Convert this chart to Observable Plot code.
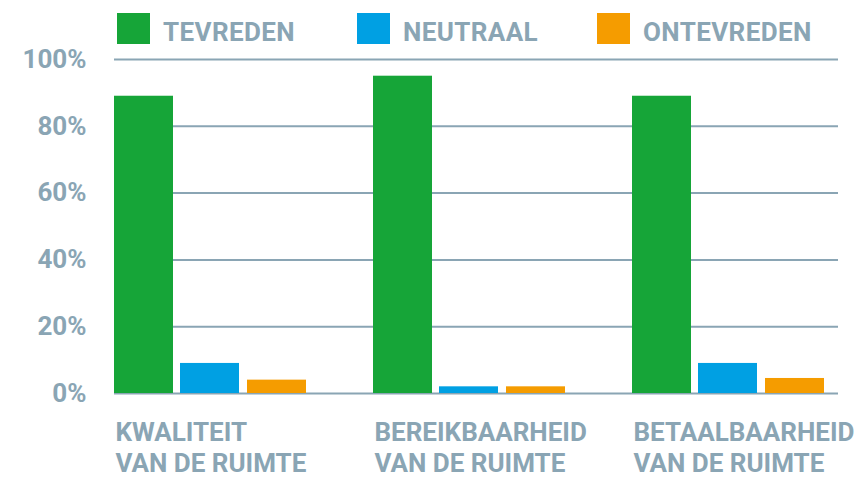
<!DOCTYPE html>
<html>
<head>
<meta charset="utf-8">
<script src="https://cdn.jsdelivr.net/npm/d3@7"></script>
<script src="https://cdn.jsdelivr.net/npm/@observablehq/plot@0.6"></script>
<style>
  html, body { margin: 0; padding: 0; background: #fff; }
  #wrap { position: relative; width: 861px; height: 478px; font-family: Roboto, "DejaVu Sans", sans-serif; }
  #legend { position: absolute; left: 0; top: 0; width: 861px; height: 50px; }
  .sw { position: absolute; top: 13px; width: 33px; height: 31px; }
  .lt { position: absolute; top: 16.5px; line-height: 31px; font-size: 26px; font-weight: 700; color: #8aa5b4; white-space: nowrap; letter-spacing: 0.4px; }
</style>
</head>
<body>
<div id="wrap"><div id="legend"></div><div id="chart"></div></div>
<script>
const categories = ["KWALITEIT\nVAN DE RUIMTE", "BEREIKBAARHEID\nVAN DE RUIMTE", "BETAALBAARHEID\nVAN DE RUIMTE"];
const series = ["TEVREDEN", "NEUTRAAL", "ONTEVREDEN"];
const tevreden = [0.89, 0.95, 0.89];
const neutraal = [0.09, 0.02, 0.09];
const ontevreden = [0.04, 0.02, 0.045];
const yTicks = [0, 0.2, 0.4, 0.6, 0.8, 1.0];
const colors = ["#16a538", "#00a0e3", "#f59c00"];
const textColor = "#8aa5b4";

const values = [tevreden, neutraal, ontevreden];
const data = [];
series.forEach((s, si) => categories.forEach((c, ci) => data.push({category: c, series: s, value: values[si][ci]})));

// insets place each series inside its group band
const insets = [[0, 133], [66, 67], [133, 0]];

const chart = Plot.plot({
  width: 861,
  height: 478,
  marginTop: 59,
  marginBottom: 85,
  marginLeft: 114,
  marginRight: 23,
  style: {fontFamily: "Roboto", fontWeight: 700, fontSize: "26px", color: textColor, background: "transparent", overflow: "visible"},
  x: {domain: categories, range: [114, 824], paddingInner: 0.2587, paddingOuter: 0, axis: null},
  y: {domain: [0, 1], axis: null},
  color: {domain: series, range: colors},
  marks: [
    Plot.ruleY(yTicks, {y: d => d, stroke: textColor, strokeWidth: 2}),
    ...series.map((s, i) => Plot.barY(data.filter(d => d.series === s), {
      x: "category", y: "value", fill: "series",
      insetLeft: insets[i][0], insetRight: insets[i][1]
    })),
    Plot.text(yTicks, {y: d => d, text: d => `${Math.round(d * 100)}%`, frameAnchor: "left", textAnchor: "end", dx: -28, fill: textColor, fontSize: 26, fontWeight: 700}),
    Plot.text(categories, {x: d => d, text: d => d, frameAnchor: "bottom", lineAnchor: "top", textAnchor: "start", dx: -95, dy: 25.5, lineHeight: 1.2, fill: textColor, fontSize: 26, fontWeight: 700})
  ]
});
document.getElementById("chart").appendChild(chart);

// legend
const legendLefts = [117, 357, 597];
const legend = d3.select("#legend");
series.forEach((s, i) => {
  legend.append("div").attr("class", "sw").style("left", legendLefts[i] + "px").style("background", colors[i]);
  legend.append("div").attr("class", "lt").style("left", (legendLefts[i] + 46) + "px").text(s);
});
</script>
</body>
</html>
